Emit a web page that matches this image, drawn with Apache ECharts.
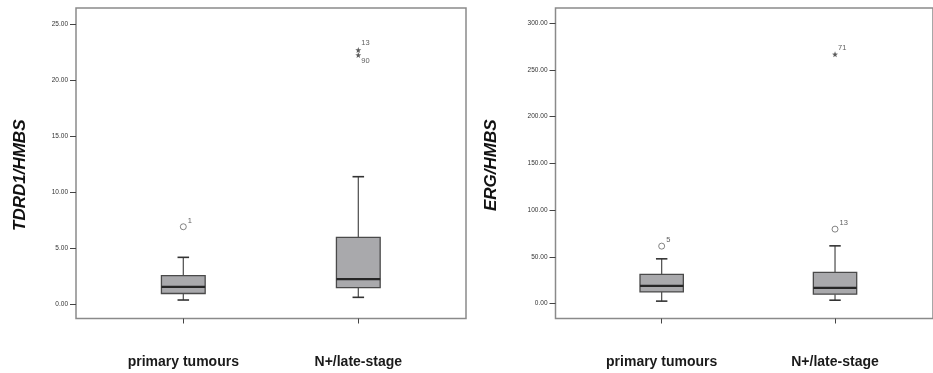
<!DOCTYPE html>
<html>
<head>
<meta charset="utf-8">
<script src="https://cdn.jsdelivr.net/npm/echarts@6/dist/echarts.min.js"></script>
<style>
  html, body { margin: 0; padding: 0; background: #fff; }
  #chart { width: 933px; height: 373px; }
</style>
</head>
<body>
<div id="chart"></div>
<script>
// Group names shown on both panels
const categories = ['primary tumours', 'N+/late-stage'];

// TDRD1/HMBS: [category index, lower whisker, Q1, median, Q3, upper whisker]
const tdrd1Boxes = [
  [0, 0.36, 0.94, 1.54, 2.53, 4.17],
  [1, 0.60, 1.46, 2.23, 5.96, 11.37]
];
// TDRD1/HMBS outliers: [category index, value, case label, kind]
const tdrd1Outliers = [
  [0, 6.90, '1', 'mild'],
  [1, 22.68, '13', 'extreme'],
  [1, 22.23, '90', 'extreme']
];
const tdrd1Ticks = [0, 5, 10, 15, 20, 25];
const tdrd1Range = [-1.29, 26.43];

// ERG/HMBS: [category index, lower whisker, Q1, median, Q3, upper whisker]
const ergBoxes = [
  [0, 2.5, 12.4, 18.9, 31.1, 47.8],
  [1, 3.5, 10.0, 16.7, 33.2, 61.7]
];
const ergOutliers = [
  [0, 61.4, '5', 'mild'],
  [1, 79.6, '13', 'mild'],
  [1, 266.8, '71', 'extreme']
];
const ergTicks = [0, 50, 100, 150, 200, 250, 300];
const ergRange = [-16.1, 316.4];

const FONT = 'Liberation Sans, Arial, sans-serif';
const STAR = 'path://M0,-5L1.2,-1.6L4.8,-1.5L1.9,0.6L2.9,4L0,2L-2.9,4L-1.9,0.6L-4.8,-1.5L-1.2,-1.6Z';

// Box with short whisker caps and a heavy median bar
function renderBox(params, api) {
  const c = api.value(0);
  const lo = api.coord([c, api.value(1)]);
  const q1 = api.coord([c, api.value(2)]);
  const md = api.coord([c, api.value(3)]);
  const q3 = api.coord([c, api.value(4)]);
  const hi = api.coord([c, api.value(5)]);
  const band = api.size([1, 0])[0];
  const half = band * 0.125;
  const cap = band * 0.033;
  const cx = lo[0];
  const thin = { stroke: '#4a4a4a', lineWidth: 1.2 };
  return {
    type: 'group',
    children: [
      { type: 'line', shape: { x1: cx, y1: hi[1], x2: cx, y2: q3[1] }, style: thin },
      { type: 'line', shape: { x1: cx - cap, y1: hi[1], x2: cx + cap, y2: hi[1] }, style: { stroke: '#333', lineWidth: 1.6 } },
      { type: 'line', shape: { x1: cx, y1: lo[1], x2: cx, y2: q1[1] }, style: thin },
      { type: 'line', shape: { x1: cx - cap, y1: lo[1], x2: cx + cap, y2: lo[1] }, style: { stroke: '#333', lineWidth: 1.6 } },
      { type: 'rect', shape: { x: cx - half, y: q3[1], width: half * 2, height: q1[1] - q3[1] },
        style: { fill: '#a9a9ac', stroke: '#4a4a4a', lineWidth: 1.3 } },
      { type: 'line', shape: { x1: cx - half, y1: md[1], x2: cx + half, y2: md[1] }, style: { stroke: '#262626', lineWidth: 2.2 } }
    ]
  };
}

function outlierData(list) {
  return list.map(function (o, i) {
    const extreme = o[3] === 'extreme';
    let offset = [1, -6];
    if (extreme) {
      const pair = list.some(function (p, j) { return j !== i && p[0] === o[0] && p[3] === 'extreme'; });
      if (pair) {
        // two stacked stars: upper one labelled above, lower one below
        const isLower = list.some(function (p, j) { return j !== i && p[0] === o[0] && p[3] === 'extreme' && p[1] > o[1]; });
        offset = isLower ? [0, 6] : [0, -7];
      } else {
        offset = [0, -6];
      }
    }
    return {
      value: [o[0], o[1]],
      name: o[2],
      symbol: extreme ? STAR : 'circle',
      symbolSize: 6,
      itemStyle: extreme
        ? { color: '#333' }
        : { color: '#ffffff', borderColor: '#555', borderWidth: 0.9 },
      label: { offset: offset }
    };
  });
}

function panel(gi, frame, boxes, ticks, range, boxData, outliers, name, namePad) {
  return {
    grids: [
      { left: frame.left, top: 8, width: frame.width, height: 310.5, show: true,
        borderColor: '#8a8a8a', borderWidth: 1.5, backgroundColor: 'transparent' },
      { left: boxes.left, top: 8, width: boxes.width, height: 310.5 }
    ],
    xAxes: [
      { gridIndex: gi, type: 'value', show: false, min: 0, max: 1 },
      { gridIndex: gi + 1, type: 'category', data: categories, position: 'bottom',
        axisLine: { show: false, onZero: false },
        axisTick: { show: true, alignWithLabel: true, length: 5, lineStyle: { color: '#444', width: 1 } },
        axisLabel: { margin: 37, fontSize: 14, fontWeight: 'bold', color: '#1a1a1a', fontFamily: FONT } }
    ],
    yAxes: [
      { gridIndex: gi, type: 'value', min: range[0], max: range[1],
        axisLine: { show: false, onZero: false },
        splitLine: { show: false },
        axisTick: { show: true, customValues: ticks, length: 6, lineStyle: { color: '#444', width: 1 } },
        axisLabel: { customValues: ticks, margin: 8, fontSize: 6.5, color: '#333', fontFamily: FONT,
          formatter: function (v) { return v.toFixed(2); } },
        name: name, nameLocation: 'middle', nameGap: frame.nameGap,
        nameTextStyle: { fontSize: 17, fontWeight: 'bold', fontStyle: 'italic', color: '#111',
          fontFamily: FONT, padding: namePad } },
      { gridIndex: gi + 1, type: 'value', min: range[0], max: range[1], show: false }
    ],
    series: [
      { type: 'custom', renderItem: renderBox, data: boxData, silent: true },
      { type: 'scatter', silent: true,
        data: outlierData(outliers),
        label: { show: true, formatter: '{b}', position: 'right', distance: 0,
          fontSize: 7.5, color: '#333', fontFamily: FONT } }
    ]
  };
}

const left = panel(0, { left: 76, width: 390, nameGap: 47 }, { left: 95.8, width: 350 },
  tdrd1Ticks, tdrd1Range, tdrd1Boxes, tdrd1Outliers, 'TDRD1/HMBS', [0, 24, 0, 0]);
const right = panel(2, { left: 555.5, width: 386, nameGap: 56 }, { left: 575, width: 346.7 },
  ergTicks, ergRange, ergBoxes, ergOutliers, 'ERG/HMBS', [0, 4, 0, 0]);

// each panel's marks live on its inner (box) grid axes
left.series.forEach(function (s) { s.xAxisIndex = 1; s.yAxisIndex = 1; });
right.series.forEach(function (s) { s.xAxisIndex = 3; s.yAxisIndex = 3; });

const chart = echarts.init(document.getElementById('chart'), null, { renderer: 'canvas' });
chart.setOption({
  animation: false,
  backgroundColor: '#fff',
  grid: left.grids.concat(right.grids),
  xAxis: left.xAxes.concat(right.xAxes),
  yAxis: left.yAxes.concat(right.yAxes),
  series: left.series.concat(right.series)
});
</script>
</body>
</html>
